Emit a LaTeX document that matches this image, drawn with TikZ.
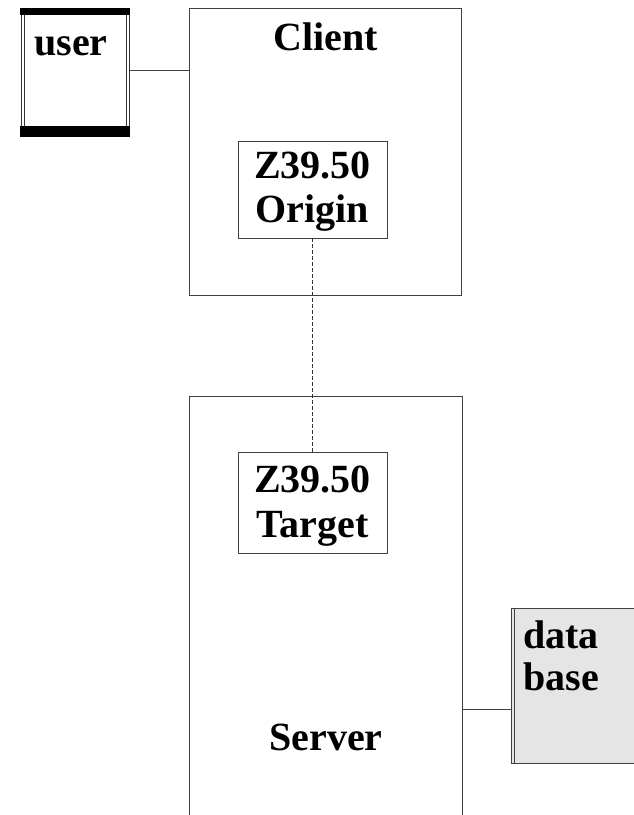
\documentclass[tikz,border=0pt]{standalone}
\usepackage{fontspec}
\setmainfont{Liberation Serif}
\usetikzlibrary{calc}
\begin{document}
\begin{tikzpicture}[x=1pt,y=-1pt,
  box/.style={draw=black!75, line width=0.9pt, rectangle, inner sep=0pt},
  lbl/.style={font=\fontsize{40}{45}\selectfont\bfseries, inner sep=0pt, anchor=base},
  conn/.style={draw=black!75, line width=0.9pt}]
\clip (0,0) rectangle (634,815);
\fill[white] (0,0) rectangle (634,815);
% user box
\path (20,8) coordinate (uTL) (130,137) coordinate (uBR);
\node[inner sep=0pt, fit/.style={}, minimum width=110pt, minimum height=129pt] (user) at (75,72.5) {};
\draw[black!80, line width=0.6pt] (21,8) -- (21,137) (24,8) -- (24,137) (126,8) -- (126,137) (129,8) -- (129,137);
\fill[black] (20,8) rectangle (130,14.5);
\fill[black] (20,126) rectangle (130,137);
\node[lbl, anchor=base west] (userlbl) at (34,55) {user};
% client
\node[box, minimum width=272pt, minimum height=287pt] (client) at (325.5,8.5+143.5) {};
\node[lbl] (clientlbl) at (326,50) {Client};
% origin
\node[box, minimum width=149pt, minimum height=97pt] (origin) at (312.5,189.5) {};
\node[lbl] (o1) at (312.5,178) {Z39.50};
\node[lbl] (o2) at (312.5,222) {Origin};
% server (open at bottom)
\coordinate (sTL) at (189,396);
\coordinate (sTR) at (462,396);
\draw[conn] (189,830) -- (sTL) -- (sTR) -- (462,830);
\node[inner sep=0pt, minimum width=273pt, minimum height=420pt] (server) at (325.5,606) {};
\node[lbl] (serverlbl) at (326,750) {Server};
% target
\node[box, minimum width=149pt, minimum height=101pt] (target) at (312.5,502.5) {};
\node[lbl] (t1) at (312.5,492) {Z39.50};
\node[lbl] (t2) at (312.5,537) {Target};
% database
\fill[black!10] (511,608) rectangle (650,763);
\draw[conn] (650,608) -- (511,608) -- (511,763) -- (650,763);
\draw[black!75, line width=0.6pt] (514,608) -- (514,763);
\node[inner sep=0pt, minimum width=139pt, minimum height=155pt] (db) at (580.5,685.5) {};
\node[lbl, anchor=base west] (db1) at (523,648) {data};
\node[lbl, anchor=base west] (db2) at (523,690) {base};
% connectors
\draw[conn] (user.east |- 0,70) -- (client.west |- 0,70);
\draw[black!80, line width=0.8pt, dash pattern=on 4pt off 2pt] (origin.south) -- (target.north);
\draw[conn] (462,709) -- (db.west |- 0,709);
\end{tikzpicture}
\end{document}
